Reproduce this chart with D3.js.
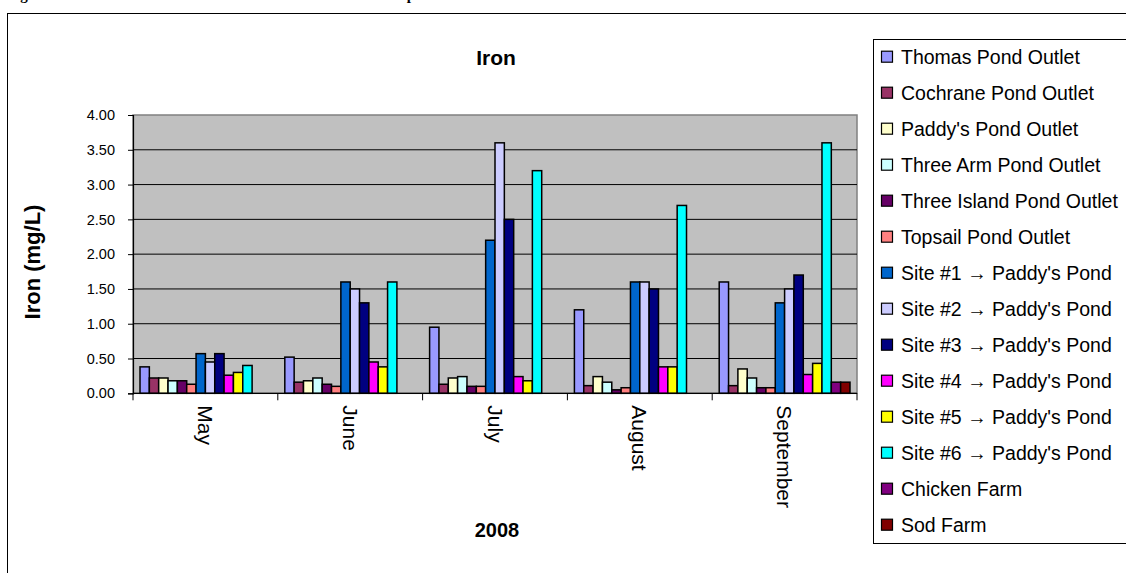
<!DOCTYPE html>
<html><head><meta charset="utf-8">
<script src="https://cdn.jsdelivr.net/npm/d3@7"></script>
<style>body{margin:0;background:#fff;} svg{display:block;}</style>
</head><body>
<svg id="c" width="1126" height="573"></svg>
<script>
const months = ["May", "June", "July", "August", "September"];
const seriesNames = ["Thomas Pond Outlet", "Cochrane Pond Outlet", "Paddy's Pond Outlet", "Three Arm Pond Outlet",
  "Three Island Pond Outlet", "Topsail Pond Outlet", "Site #1 \u2192 Paddy's Pond", "Site #2 \u2192 Paddy's Pond",
  "Site #3 \u2192 Paddy's Pond", "Site #4 \u2192 Paddy's Pond", "Site #5 \u2192 Paddy's Pond", "Site #6 \u2192 Paddy's Pond",
  "Chicken Farm", "Sod Farm"];
const seriesColors = ["#9999FF", "#993366", "#FFFFCC", "#CCFFFF", "#660066", "#FF8080", "#0066CC", "#CCCCFF",
  "#000080", "#FF00FF", "#FFFF00", "#00FFFF", "#800080", "#800000"];
// values per series, one per month (May..September)
const thomas     = [0.38, 0.52, 0.95, 1.20, 1.60];
const cochrane   = [0.22, 0.16, 0.13, 0.11, 0.11];
const paddys     = [0.22, 0.18, 0.22, 0.24, 0.35];
const threeArm   = [0.18, 0.22, 0.24, 0.16, 0.22];
const threeIsl   = [0.18, 0.13, 0.10, 0.05, 0.08];
const topsail    = [0.13, 0.10, 0.10, 0.08, 0.08];
const site1      = [0.57, 1.60, 2.20, 1.60, 1.30];
const site2      = [0.45, 1.50, 3.60, 1.60, 1.50];
const site3      = [0.57, 1.30, 2.50, 1.50, 1.70];
const site4      = [0.26, 0.45, 0.24, 0.38, 0.27];
const site5      = [0.30, 0.38, 0.18, 0.38, 0.43];
const site6      = [0.40, 1.60, 3.20, 2.70, 3.60];
const chicken    = [null, null, null, null, 0.16];
const sod        = [null, null, null, null, 0.16];
const seriesValues = [thomas, cochrane, paddys, threeArm, threeIsl, topsail, site1, site2, site3, site4, site5, site6, chicken, sod];
const yTicks = [0, 0.5, 1, 1.5, 2, 2.5, 3, 3.5, 4];

const svg = d3.select("#c");
const L = 133, R = 857, T = 115, B = 393.3;

// heading fragment at the very top (cut off in the source picture)
svg.append("text").attr("x", 7).attr("y", 0).attr("font-family", "Liberation Serif").attr("font-weight", "bold")
  .attr("font-size", 15).text("Figure");
svg.append("text").attr("x", 376).attr("y", 0).attr("font-family", "Liberation Serif").attr("font-weight", "bold")
  .attr("font-size", 15).text("Comparison");

// outer chart border
svg.append("rect").attr("x", 7.5).attr("y", 13.5).attr("width", 1130).attr("height", 600)
  .attr("fill", "#fff").attr("stroke", "#000").attr("stroke-width", 1);

const x0 = d3.scaleBand().domain(months).range([L, R]).padding(0);
const x1 = d3.scaleBand().domain(d3.range(seriesNames.length)).range([0, x0.bandwidth()]).paddingInner(0).paddingOuter(0.75);
const y = d3.scaleLinear().domain([0, 4]).range([B, T]);

// plot area
svg.append("rect").attr("x", L).attr("y", T).attr("width", R - L).attr("height", B - T)
  .attr("fill", "#C0C0C0").attr("stroke", "#808080").attr("stroke-width", 1.5);

// gridlines
svg.append("g").selectAll("line").data(yTicks.filter(d => d > 0 && d < 4)).join("line")
  .attr("x1", L).attr("x2", R).attr("y1", d => y(d)).attr("y2", d => y(d))
  .attr("stroke", "#000").attr("stroke-width", 1);

// bars
const groups = svg.append("g").selectAll("g").data(seriesValues).join("g")
  .attr("fill", (d, i) => seriesColors[i]);
groups.each(function (vals, si) {
  d3.select(this).selectAll("rect").data(vals.map((v, mi) => ({ v, m: months[mi] })).filter(d => d.v != null))
    .join("rect")
    .attr("x", d => x0(d.m) + x1(si))
    .attr("width", x1.bandwidth())
    .attr("y", d => y(d.v))
    .attr("height", d => B - y(d.v))
    .attr("stroke", "#000").attr("stroke-width", 1.5);
});

// y axis
const yAxis = d3.axisLeft(y).tickValues(yTicks).tickFormat(d3.format(".2f")).tickSizeOuter(0).tickSize(5).tickPadding(13);
const ya = svg.append("g").attr("transform", `translate(${L},0)`).call(yAxis);
ya.select(".domain").attr("stroke", "#000").attr("stroke-width", 1.2);
ya.selectAll("text").attr("font-family", "Liberation Sans").attr("font-size", 14.5).attr("fill", "#000");

// x axis
const xa = svg.append("g").attr("transform", `translate(0,${B})`);
xa.append("line").attr("x1", L).attr("x2", R).attr("stroke", "#000").attr("stroke-width", 1.2);
xa.selectAll("line.t").data(months.map(m => x0(m)).concat([R])).join("line").attr("class", "t")
  .attr("x1", d => d).attr("x2", d => d).attr("y1", 0).attr("y2", 7).attr("stroke", "#000");
xa.selectAll("text").data(months).join("text")
  .attr("transform", d => `translate(${x0(d) + x0.bandwidth() / 2},12) rotate(90)`)
  .attr("dy", "0.35em").attr("text-anchor", "start")
  .attr("font-family", "Liberation Sans").attr("font-size", 21).text(d => d);

// titles
svg.append("text").attr("x", 496).attr("y", 65).attr("text-anchor", "middle")
  .attr("font-family", "Liberation Sans").attr("font-weight", "bold").attr("font-size", 21).text("Iron");
svg.append("text").attr("transform", "translate(40,262) rotate(-90)").attr("text-anchor", "middle")
  .attr("font-family", "Liberation Sans").attr("font-weight", "bold").attr("font-size", 22).text("Iron (mg/L)");
svg.append("text").attr("x", 497).attr("y", 537).attr("text-anchor", "middle")
  .attr("font-family", "Liberation Sans").attr("font-weight", "bold").attr("font-size", 20).text("2008");

// legend
svg.append("rect").attr("x", 873.5).attr("y", 39.5).attr("width", 300).attr("height", 504)
  .attr("fill", "#fff").attr("stroke", "#000").attr("stroke-width", 1);
const lg = svg.append("g").selectAll("g").data(seriesNames).join("g")
  .attr("transform", (d, i) => `translate(881,${56.7 + i * 36})`);
lg.append("rect").attr("x", 0.5).attr("y", -5.5).attr("width", 11).attr("height", 11)
  .attr("fill", (d, i) => seriesColors[i]).attr("stroke", "#000").attr("stroke-width", 1.2);
lg.append("text").attr("x", 20).attr("dy", "0.35em").attr("font-family", "Liberation Sans").attr("font-size", 19.5)
  .text(d => d);
</script>
</body></html>
